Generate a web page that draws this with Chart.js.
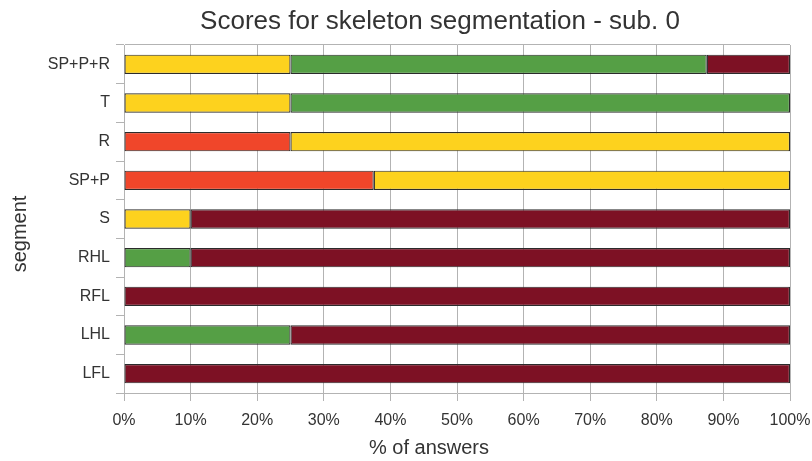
<!DOCTYPE html>
<html>
<head>
<meta charset="utf-8">
<script src="https://cdn.jsdelivr.net/npm/chart.js@4/dist/chart.umd.min.js"></script>
<style>
    html, body { margin: 0; padding: 0; background: #fff; }
    #wrap { width: 812px; height: 461px; }
</style>
</head>
<body>
<div id="wrap"><canvas id="myChart"></canvas></div>
<script>
// segments, top to bottom
const segments = ["SP+P+R", "T", "R", "SP+P", "S", "RHL", "RFL", "LHL", "LFL"];

// % of answers per score, one array per score class
const scoreRed    = [0, 0, 25, 37.5, 0, 0, 0, 0, 0];
const scoreYellow = [25, 25, 75, 62.5, 10, 0, 0, 0, 0];
const scoreGreen  = [62.5, 75, 0, 0, 0, 10, 0, 25, 0];
const scoreDark   = [12.5, 0, 0, 0, 90, 90, 100, 75, 100];

const xTicks = [0, 10, 20, 30, 40, 50, 60, 70, 80, 90, 100];

const chartTitle = "Scores for skeleton segmentation - sub. 0";
const xTitle = "% of answers";
const yTitle = "segment";

const font = "'Liberation Sans', Arial, sans-serif";
const textColor = "#333333";
const gridColor = "#b3b3b3";

function series(label, data, color) {
    return {
        label: label,
        data: data,
        backgroundColor: color,
        borderColor: "#2b2b2b",
        // empty segments get no outline
        borderWidth: (c) => (c.raw ? 1.2 : 0),
        borderSkipped: false,
        barPercentage: 0.5,
        categoryPercentage: 1.0
    };
}

// titles are placed by hand, a bit left of the plot centre
const captions = {
    id: "captions",
    afterDraw(chart) {
        const c = chart.ctx;
        const area = chart.chartArea;
        const mid = (area.left + area.right) / 2;
        c.save();
        c.fillStyle = textColor;
        c.textAlign = "center";
        c.textBaseline = "alphabetic";

        c.font = "26px " + font;
        c.fillText(chartTitle, mid - 17, 29);

        c.font = "20px " + font;
        c.fillText(xTitle, mid - 28, 454);

        c.translate(25.5, (area.top + area.bottom) / 2 + 15);
        c.rotate(-Math.PI / 2);
        c.fillText(yTitle, 0, 0);
        c.restore();
    }
};

const ctx = document.getElementById("myChart").getContext("2d");
new Chart(ctx, {
    type: "bar",
    data: {
        labels: segments,
        datasets: [
            series("red", scoreRed, "#f0462a"),
            series("yellow", scoreYellow, "#fdd21e"),
            series("green", scoreGreen, "#559f45"),
            series("dark red", scoreDark, "#7d1124")
        ]
    },
    plugins: [captions],
    options: {
        indexAxis: "y",
        responsive: true,
        maintainAspectRatio: false,
        animation: false,
        layout: { padding: { left: 0, right: 22, top: 45, bottom: 0 } },
        plugins: {
            legend: { display: false },
            tooltip: { enabled: false },
            title: { display: false }
        },
        scales: {
            x: {
                stacked: true,
                min: 0,
                max: 100,
                afterBuildTicks: (scale) => {
                    scale.ticks = xTicks.map(v => ({ value: v }));
                },
                afterFit: (scale) => {
                    scale.height = 68;
                    // edge labels may overhang; layout padding handles the right side
                    scale.paddingLeft = 0;
                    scale.paddingRight = 0;
                },
                ticks: {
                    color: textColor,
                    font: { family: font, size: 16 },
                    padding: 10,
                    callback: (v) => v + "%"
                },
                grid: { color: gridColor, tickLength: 8, tickColor: gridColor },
                border: { color: gridColor }
            },
            y: {
                stacked: true,
                afterFit: (scale) => { scale.width = 124; },
                ticks: {
                    color: textColor,
                    font: { family: font, size: 16 },
                    padding: 6
                },
                grid: {
                    offset: true,
                    tickLength: 8,
                    tickColor: gridColor,
                    color: (c) => (c.index === 0 || c.index === segments.length) ? gridColor : "transparent"
                },
                border: { color: gridColor }
            }
        }
    }
});
</script>
</body>
</html>
